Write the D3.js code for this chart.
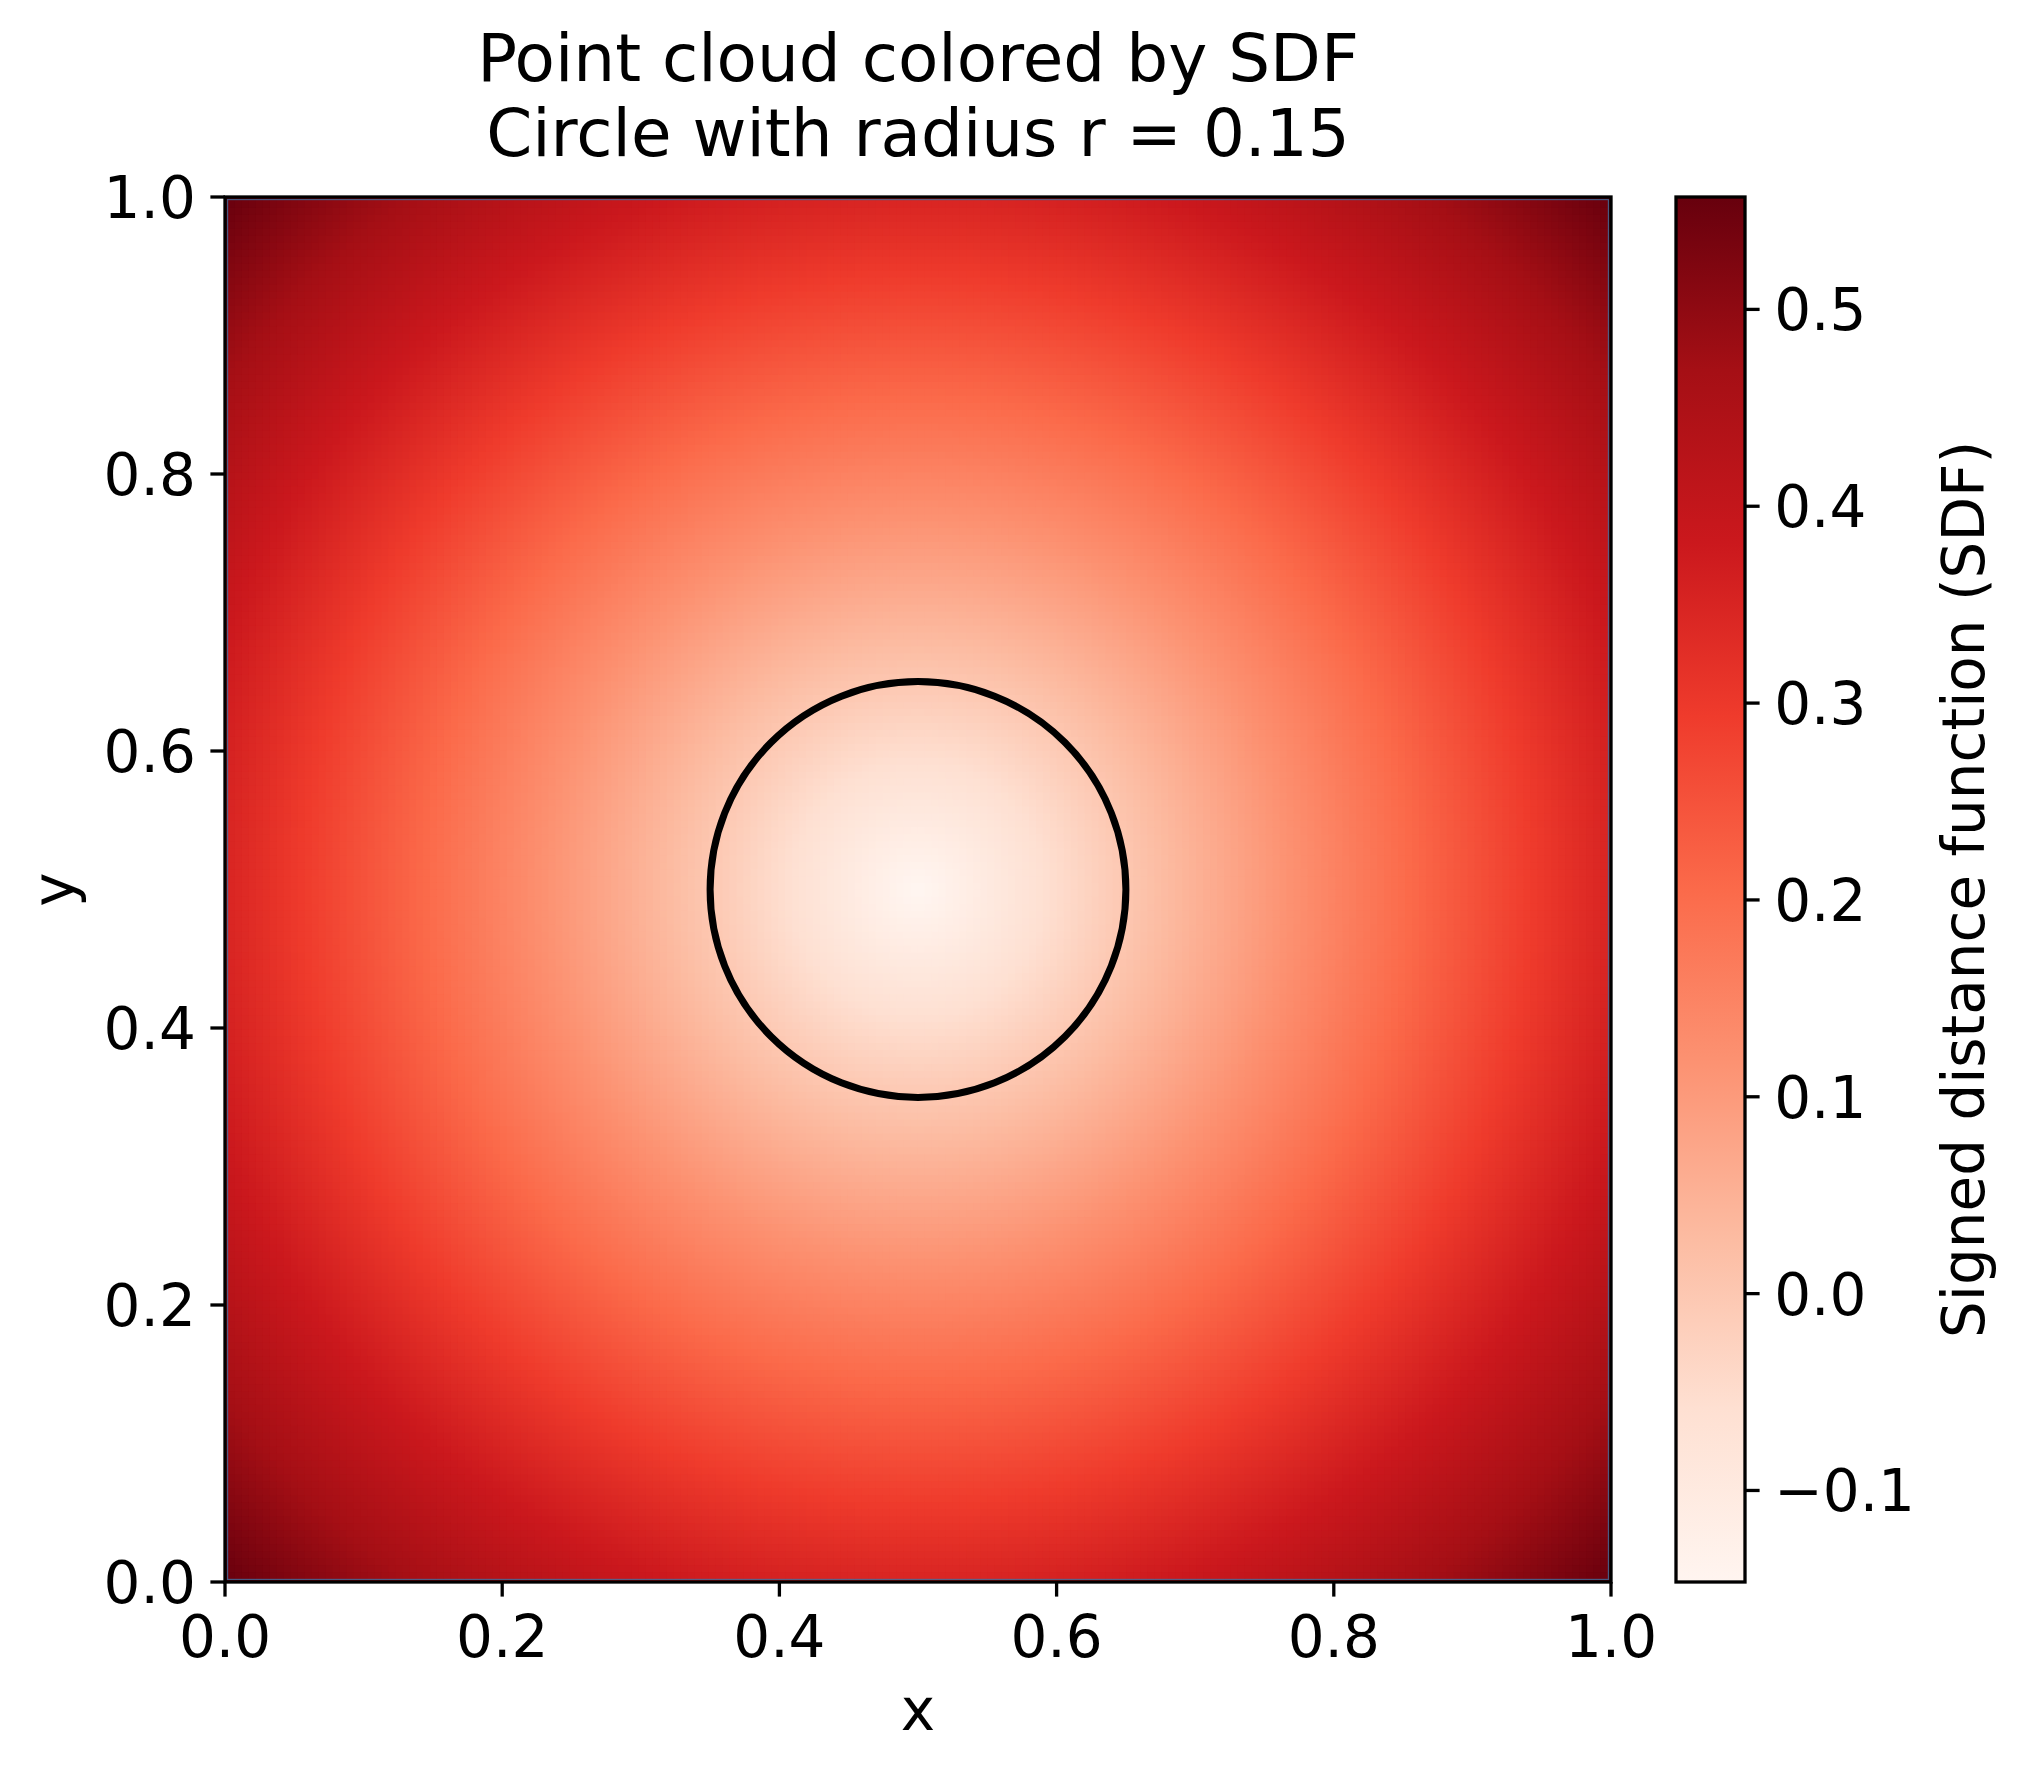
<!DOCTYPE html>
<html>
<head>
<meta charset="utf-8">
<script src="https://cdn.jsdelivr.net/npm/d3@7"></script>
<style>
  html, body { margin: 0; padding: 0; background: #fff; }
  svg { display: block; }
  text { font-family: "DejaVu Sans", sans-serif; fill: #000; }
</style>
</head>
<body>
<svg id="chart" width="2028" height="1772"></svg>
<script>
// ---------------- data ----------------
const titleLines = ["Point cloud colored by SDF", "Circle with radius r = 0.15"];
const xLabel = "x";
const yLabel = "y";
const cbarLabel = "Signed distance function (SDF)";
const circleCenter = [0.5, 0.5];
const circleRadius = 0.15;
const gridCount = 200;                 // points per side of the point cloud
const xDomain = [0, 1];
const yDomain = [0, 1];
const xTicks = [0.0, 0.2, 0.4, 0.6, 0.8, 1.0];
const yTicks = [0.0, 0.2, 0.4, 0.6, 0.8, 1.0];
const sdfRange = [-0.1465, 0.5571];    // min / max of the SDF over the cloud
const cbarTicks = [-0.1, 0.0, 0.1, 0.2, 0.3, 0.4, 0.5];
const redsColors = ["#fff5f0", "#fee0d2", "#fcbba1", "#fc9272", "#fb6a4a", "#ef3b2c", "#cb181d", "#a50f15", "#67000d"];

// ---------------- layout ----------------
const svg = d3.select("#chart");
svg.append("rect").attr("width", 2028).attr("height", 1772).attr("fill", "#fff");

const plot = { left: 225, right: 1611, top: 197, bottom: 1582 };
const cbar = { left: 1676, right: 1745, top: 197, bottom: 1582 };
const LW = 3.3, TICK = 14.6, FS = 58;

const x = d3.scaleLinear().domain(xDomain).range([plot.left, plot.right]);
const y = d3.scaleLinear().domain(yDomain).range([plot.bottom, plot.top]);
const colorScale = d3.scaleLinear()
  .domain(redsColors.map((_, i) => sdfRange[0] + (sdfRange[1] - sdfRange[0]) * i / (redsColors.length - 1)))
  .range(redsColors)
  .interpolate(d3.interpolateRgb)
  .clamp(true);

// point cloud
const coords = d3.range(gridCount).map(i => i / (gridCount - 1));
const points = [];
coords.forEach(px => coords.forEach(py => {
  const sdf = Math.hypot(px - circleCenter[0], py - circleCenter[1]) - circleRadius;
  points.push({ px, py, sdf });
}));

svg.append("clipPath").attr("id", "plotClip")
  .append("rect")
  .attr("x", plot.left).attr("y", plot.top)
  .attr("width", plot.right - plot.left).attr("height", plot.bottom - plot.top);

const step = 1 / (gridCount - 1);
const cw = x(step) - x(0) + 0.9;
const ch = y(0) - y(step) + 0.9;
svg.append("g").attr("clip-path", "url(#plotClip)")
  .selectAll("rect").data(points).join("rect")
  .attr("x", d => x(d.px) - cw / 2)
  .attr("y", d => y(d.py) - ch / 2)
  .attr("width", cw).attr("height", ch)
  .attr("fill", d => colorScale(d.sdf));

// faint boundary of the domain
svg.append("rect")
  .attr("x", x(0) + 2.6).attr("y", y(1) + 2.6)
  .attr("width", x(1) - x(0) - 5.2).attr("height", y(0) - y(1) - 5.2)
  .attr("fill", "none").attr("stroke", "#3f6f9f").attr("stroke-width", 1.2).attr("opacity", 0.8);

// circle (zero level set)
svg.append("circle")
  .attr("cx", x(circleCenter[0])).attr("cy", y(circleCenter[1]))
  .attr("r", x(circleRadius) - x(0))
  .attr("fill", "none").attr("stroke", "#000").attr("stroke-width", 7);

// spines
svg.append("rect")
  .attr("x", plot.left).attr("y", plot.top)
  .attr("width", plot.right - plot.left).attr("height", plot.bottom - plot.top)
  .attr("fill", "none").attr("stroke", "#000").attr("stroke-width", LW);

// x axis
const fmt = d3.format(".1f");
const minusFmt = v => fmt(v).replace("-", "\u2212");
const xAxis = svg.append("g");
xAxis.selectAll("line").data(xTicks).join("line")
  .attr("x1", d => x(d)).attr("x2", d => x(d))
  .attr("y1", plot.bottom).attr("y2", plot.bottom + TICK)
  .attr("stroke", "#000").attr("stroke-width", LW);
xAxis.selectAll("text").data(xTicks).join("text")
  .attr("x", d => x(d)).attr("y", 1657)
  .attr("text-anchor", "middle").attr("font-size", FS)
  .text(d => minusFmt(d));

// y axis
const yAxis = svg.append("g");
yAxis.selectAll("line").data(yTicks).join("line")
  .attr("x1", plot.left - TICK).attr("x2", plot.left)
  .attr("y1", d => y(d)).attr("y2", d => y(d))
  .attr("stroke", "#000").attr("stroke-width", LW);
yAxis.selectAll("text").data(yTicks).join("text")
  .attr("x", plot.left - TICK - 14.6).attr("y", d => y(d) + 21)
  .attr("text-anchor", "end").attr("font-size", FS)
  .text(d => minusFmt(d));

// axis labels
svg.append("text").attr("x", (plot.left + plot.right) / 2).attr("y", 1730)
  .attr("text-anchor", "middle").attr("font-size", FS).text(xLabel);
svg.append("text")
  .attr("transform", `translate(74,${(plot.top + plot.bottom) / 2}) rotate(-90)`)
  .attr("text-anchor", "middle").attr("font-size", FS).text(yLabel);

// title
svg.append("g").selectAll("text").data(titleLines).join("text")
  .attr("x", (plot.left + plot.right) / 2)
  .attr("y", (d, i) => 81 + i * 75)
  .attr("text-anchor", "middle").attr("font-size", 66)
  .text(d => d);

// colorbar
const cy = d3.scaleLinear().domain(sdfRange).range([cbar.bottom, cbar.top]);
const grad = svg.append("defs").append("linearGradient")
  .attr("id", "redsGrad").attr("x1", 0).attr("y1", 1).attr("x2", 0).attr("y2", 0);
grad.selectAll("stop").data(redsColors).join("stop")
  .attr("offset", (d, i) => i / (redsColors.length - 1))
  .attr("stop-color", d => d);
svg.append("rect")
  .attr("x", cbar.left).attr("y", cbar.top)
  .attr("width", cbar.right - cbar.left).attr("height", cbar.bottom - cbar.top)
  .attr("fill", "url(#redsGrad)")
  .attr("stroke", "#000").attr("stroke-width", LW);
const cAxis = svg.append("g");
cAxis.selectAll("line").data(cbarTicks).join("line")
  .attr("x1", cbar.right).attr("x2", cbar.right + TICK)
  .attr("y1", d => cy(d)).attr("y2", d => cy(d))
  .attr("stroke", "#000").attr("stroke-width", LW);
cAxis.selectAll("text").data(cbarTicks).join("text")
  .attr("x", cbar.right + TICK + 14.6).attr("y", d => cy(d) + 21)
  .attr("text-anchor", "start").attr("font-size", FS)
  .text(d => minusFmt(d));
svg.append("text")
  .attr("transform", `translate(1984,${(cbar.top + cbar.bottom) / 2}) rotate(-90)`)
  .attr("text-anchor", "middle").attr("font-size", FS).text(cbarLabel);
</script>
</body>
</html>
